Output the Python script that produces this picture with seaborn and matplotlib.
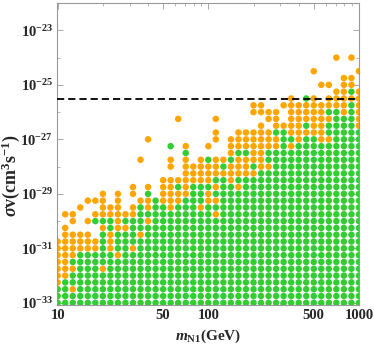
import numpy as np
import pandas as pd
import matplotlib
matplotlib.use("Agg")
import matplotlib.pyplot as plt
import seaborn as sns

# grid of the scan: log10 of mass and of sigma*v
mass_exponents = np.round(np.arange(1.0, 3.0001, 0.05), 2)
sigma_exponents = np.round(np.arange(-33.0, -23.9, 0.25), 2)

# one entry per mass column, run-length from the bottom row upward
# g = green point, o = orange point, . = no point
columns = [
    "g3 o7",
    "g4 o8 .1 o1",
    "g2 o1 g2 o1 g1 o4 .1 o2",
    "g8 o3 .3 o1",
    "g8 o3 .1 o1 .2 o1",
    "g8 o2 .2 g1 o1 .1 o1",
    "g5 o1 g5 o1 g1 o4",
    "g8 o3 g2 o2",
    "g7 o1 g3 o6",
    "g11 o1 g1 o1",
    "g8 o1 g4 o2 .1 o2",
    "g10 o1 g4 o1 .5 o1",
    "g12 o1 g1 o2 g1 o1 .6 o1",
    "g16",
    "g15 o4",
    "g14 o5 .1 o2 .1 g1",
    "g15 o2 g1 o1 .8 o1",
    "g16 o6 g1 o1",
    "g18 o3",
    "g14 o1 g3 o4",
    "g15 o2 g1 o3 g1 .1 o1",
    "g13 o1 g1 o1 g1 o1 g1 o3 .2 o2 .1 o1",
    "g19 o1 g1 o1",
    "g18 o3 g1 o3",
    "g17 o1 g1 o3 g1 o3",
    "g19 o3 g1 o3",
    "g19 o1 g1 o5 .2 o2",
    "g20 o7 .1 o2",
    "g20 o1 g2 o3 .1 o2",
    "g23 o2 g1 o3",
    "g26 o1 .2 o1",
    "g23 o1 g1 o6",
    "g24 o6",
    "g25 o1 g1 o3 g1",
    "g25 o6 .3 o1",
    "g24 o6 .2 o1",
    "g24 o1 g2 o1 g1 o2 .1 o1",
    "g29 o3 .4 o1",
    "g28 o6",
    "g30 o1 g1 o2 .2 o1",
    "g26 o6 .2 o1",
]
relic_limit = 3e-26

rows = []
for i, col in enumerate(columns):
    j = 0
    for run in col.split():
        kind, n = run[0], int(run[1:])
        for _ in range(n):
            if kind != ".":
                rows.append({"m": 10 ** mass_exponents[i],
                             "sv": 10 ** sigma_exponents[j],
                             "kind": kind})
            j += 1
df = pd.DataFrame(rows)

sns.set_style("ticks")
plt.rcParams["font.family"] = ["Liberation Serif", "DejaVu Serif"]
plt.rcParams["mathtext.fontset"] = "custom"
plt.rcParams["mathtext.rm"] = "Liberation Serif:bold"
plt.rcParams["mathtext.bf"] = "Liberation Serif:bold"
plt.rcParams["mathtext.it"] = "Liberation Serif:bold:italic"

fig = plt.figure(figsize=(3.74, 3.47), dpi=100)
ax = fig.add_axes([0.153, 0.121, 0.808, 0.870])

sns.scatterplot(data=df, x="m", y="sv", hue="kind",
                palette={"g": "#33CC33", "o": "#FFA500"},
                s=22, linewidth=0, legend=False, ax=ax, zorder=2)
ax.axhline(relic_limit, color="black", lw=1.3, dashes=(4, 2.2), zorder=3)

ax.set_xscale("log")
ax.set_yscale("log")
ax.set_xlim(10 ** 0.997, 10 ** 3.003)
ax.set_ylim(10 ** -33.08, 10 ** -22.05)

xt = [10, 50, 100, 500, 1000]
ax.set_xticks(xt)
ax.set_xticklabels([str(v) for v in xt], fontweight="bold", fontsize=10.5)
minor_x = [v * d for d in (10, 100) for v in range(1, 10)] + [1000]
ax.set_xticks([v for v in minor_x if v not in xt], minor=True)
ax.xaxis.set_minor_formatter(matplotlib.ticker.NullFormatter())

yt = [10.0 ** e for e in range(-33, -22, 2)]
ax.set_yticks(yt)
ax.set_yticklabels([r"$10^{%d}$" % e for e in range(-33, -22, 2)], fontsize=10.5)
ax.set_yticks([10.0 ** e for e in range(-32, -21, 2)], minor=True)
ax.yaxis.set_minor_formatter(matplotlib.ticker.NullFormatter())

ax.tick_params(which="both", direction="in", top=True, right=True,
               color="#999999", pad=3)
ax.tick_params(which="major", length=4, width=0.6)
ax.tick_params(which="minor", length=2, width=0.5)
for sp in ax.spines.values():
    sp.set_color("#999999")
    sp.set_linewidth(0.8)

ax.set_xlabel(r"$m_{\mathrm{N1}}\mathrm{(GeV)}$", fontsize=11, labelpad=4)
ax.set_ylabel(r"$\sigma\mathrm{v(cm^3s^{-1})}$", fontsize=13)
ax.yaxis.set_label_coords(-0.116, 0.43)

fig.savefig("out.png", dpi=100)
